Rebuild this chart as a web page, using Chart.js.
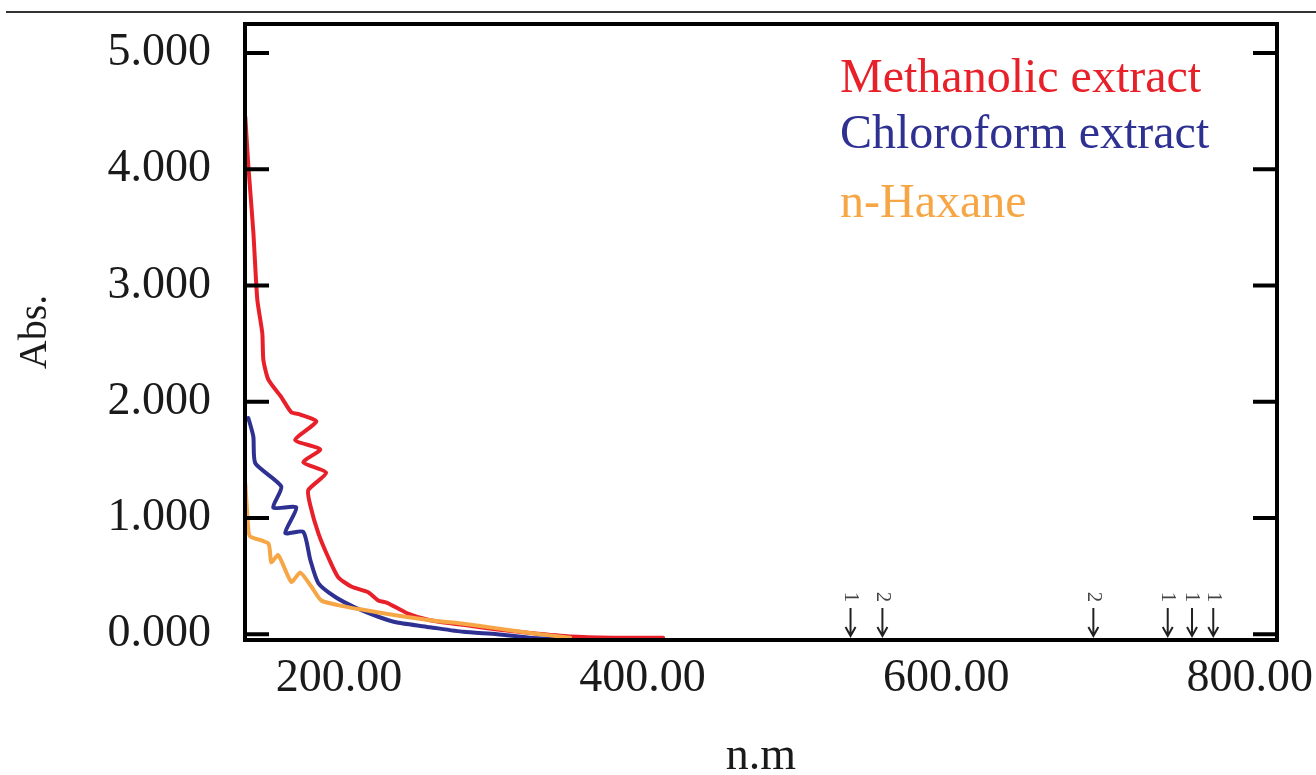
<!DOCTYPE html>
<html>
<head>
<meta charset="utf-8">
<script src="https://cdn.jsdelivr.net/npm/chart.js@4.4.1/dist/chart.umd.min.js"></script>
<style>
  body { margin: 0; background: #fff; }
  #wrap { position: relative; width: 1316px; height: 775px; }
  #rule { position: absolute; left: 6px; right: 0; top: 11px; height: 2px; background: #333; }
</style>
</head>
<body>
<div id="wrap">
  <canvas id="uv-chart" width="1316" height="775"></canvas>
  <div id="rule"></div>
</div>
<script>
// spectra (wavelength in nm, absorbance)
const methanolicNm = [138.2, 140.2, 143.5, 146.1, 149.4, 150.1, 153.4, 161.9, 168.5, 174.4, 185.0, 171.1, 187.6, 176.4, 191.5, 179.7, 181.0, 186.3, 192.9, 199.4, 208.0, 219.2, 225.8, 231.7, 244.9, 260.0, 281.8, 304.2, 325.9, 352.2, 380.5, 413.5];
const methanolicAbs = [4.45, 4.03, 3.46, 2.88, 2.59, 2.36, 2.19, 2.04, 1.91, 1.89, 1.83, 1.67, 1.59, 1.48, 1.39, 1.24, 1.11, 0.87, 0.66, 0.49, 0.41, 0.36, 0.29, 0.27, 0.18, 0.12, 0.08, 0.04, 0.01, -0.02, -0.03, -0.03];

const chloroformNm = [140.2, 143.5, 144.8, 161.9, 156.6, 171.8, 164.5, 176.4, 181.0, 186.3, 197.5, 210.6, 225.8, 238.3, 260.0, 281.8, 304.2, 325.9, 354.2];
const chloroformAbs = [1.86, 1.70, 1.47, 1.27, 1.09, 1.09, 0.87, 0.88, 0.64, 0.44, 0.32, 0.23, 0.15, 0.10, 0.06, 0.02, 0.0, -0.03, -0.05];

const hexaneNm = [138.2, 140.2, 141.5, 153.4, 155.3, 159.9, 168.5, 174.4, 181.7, 188.3, 199.4, 210.6, 215.9, 238.3, 260.0, 281.8, 304.2, 325.9, 352.2];
const hexaneAbs = [1.30, 0.90, 0.84, 0.78, 0.62, 0.68, 0.45, 0.53, 0.41, 0.29, 0.25, 0.22, 0.21, 0.16, 0.12, 0.09, 0.05, 0.01, -0.03];

// tick labels
const xTicks = [200, 400, 600, 800];
const yTicks = [0, 1, 2, 3, 4, 5];

// peak pick marks along the baseline
const peakNm = [537, 558, 697, 746, 762, 776];
const peakLabels = ["1", "2", "2", "1", "1", "1"];

const serif = '"Liberation Serif", "Times New Roman", serif';

function toPoints(xs, ys) {
  return xs.map((x, i) => ({ x: x, y: ys[i] }));
}

// frame, inner ticks, peak arrows and text legend
const decorations = {
  id: "decorations",
  afterDatasetsDraw(chart) {
    const ctx = chart.ctx;
    const area = chart.chartArea;
    const xs = chart.scales.x;
    const ys = chart.scales.y;
    ctx.save();

    // frame
    ctx.strokeStyle = "#000";
    ctx.lineWidth = 4;
    ctx.strokeRect(area.left, area.top, area.right - area.left, area.bottom - area.top);

    // inner y ticks, both sides
    yTicks.forEach((v) => {
      const py = ys.getPixelForValue(v);
      ctx.beginPath();
      ctx.moveTo(area.left, py);
      ctx.lineTo(area.left + 24, py);
      ctx.moveTo(area.right, py);
      ctx.lineTo(area.right - 24, py);
      ctx.stroke();
    });

    // peak arrows
    ctx.strokeStyle = "#222";
    ctx.lineWidth = 2;
    peakNm.forEach((v, i) => {
      const px = xs.getPixelForValue(v);
      const yEnd = area.bottom - 4;
      ctx.beginPath();
      ctx.moveTo(px, yEnd - 28);
      ctx.lineTo(px, yEnd);
      ctx.moveTo(px - 5, yEnd - 9);
      ctx.lineTo(px, yEnd);
      ctx.lineTo(px + 5, yEnd - 9);
      ctx.stroke();

      ctx.save();
      ctx.translate(px, yEnd - 39);
      ctx.rotate(Math.PI / 2);
      ctx.fillStyle = "#444";
      ctx.font = "21px " + serif;
      ctx.textAlign = "center";
      ctx.textBaseline = "middle";
      ctx.fillText(peakLabels[i], 0, 0);
      ctx.restore();
    });

    // legend as coloured text
    const baselines = [92, 148, 217];
    ctx.font = "48px " + serif;
    ctx.textAlign = "left";
    ctx.textBaseline = "alphabetic";
    chart.data.datasets.forEach((ds, i) => {
      ctx.fillStyle = ds.borderColor;
      ctx.fillText(ds.label, 840, baselines[i]);
    });

    ctx.restore();
  },
};

const config = {
  type: "line",
  data: {
    datasets: [
      {
        label: "Methanolic extract",
        data: toPoints(methanolicNm, methanolicAbs),
        borderColor: "#e8202a",
        order: 3,
      },
      {
        label: "Chloroform extract",
        data: toPoints(chloroformNm, chloroformAbs),
        borderColor: "#2e3192",
        order: 2,
      },
      {
        label: "n-Haxane",
        data: toPoints(hexaneNm, hexaneAbs),
        borderColor: "#f6a645",
        order: 1,
      },
    ],
  },
  options: {
    responsive: false,
    animation: false,
    layout: {
      padding: { top: 24, right: 39, left: 0, bottom: 0 },
    },
    elements: {
      line: {
        borderWidth: 4,
        tension: 0.2,
        borderJoinStyle: "round",
        borderCapStyle: "round",
        fill: false,
      },
      point: { radius: 0 },
    },
    plugins: {
      legend: { display: false },
      tooltip: { enabled: false },
    },
    scales: {
      x: {
        type: "linear",
        min: 138,
        max: 818,
        afterBuildTicks: (scale) => {
          scale.ticks = xTicks.map((v) => ({ value: v }));
        },
        afterFit: (scale) => {
          scale.height = 135;
          scale.paddingLeft = 0;
          scale.paddingRight = 0;
        },
        grid: { display: false, drawTicks: false },
        border: { display: false },
        ticks: {
          autoSkip: false,
          maxRotation: 0,
          padding: 11,
          color: "#1a1a1a",
          font: { family: serif, size: 46 },
          callback: (v) => Number(v).toFixed(2),
        },
        title: {
          display: true,
          text: "n.m",
          color: "#1a1a1a",
          font: { family: serif, size: 46, lineHeight: 1 },
          padding: { top: 0, bottom: -5 },
        },
      },
      y: {
        type: "linear",
        min: -0.05,
        max: 5.25,
        afterBuildTicks: (scale) => {
          scale.ticks = yTicks.map((v) => ({ value: v }));
        },
        afterFit: (scale) => {
          scale.width = 245;
          scale.paddingTop = 0;
          scale.paddingBottom = 0;
        },
        grid: { display: false, drawTicks: false },
        border: { display: false },
        ticks: {
          padding: 34,
          color: "#1a1a1a",
          font: { family: serif, size: 46 },
          callback: (v) => Number(v).toFixed(3),
        },
        title: {
          display: true,
          text: "Abs.",
          color: "#1a1a1a",
          font: { family: serif, size: 40, lineHeight: 1 },
          padding: { top: 15, bottom: 0 },
        },
      },
    },
  },
  plugins: [decorations],
};

// draw chart
var chart = new Chart(document.getElementById("uv-chart"), config);
</script>
</body>
</html>
